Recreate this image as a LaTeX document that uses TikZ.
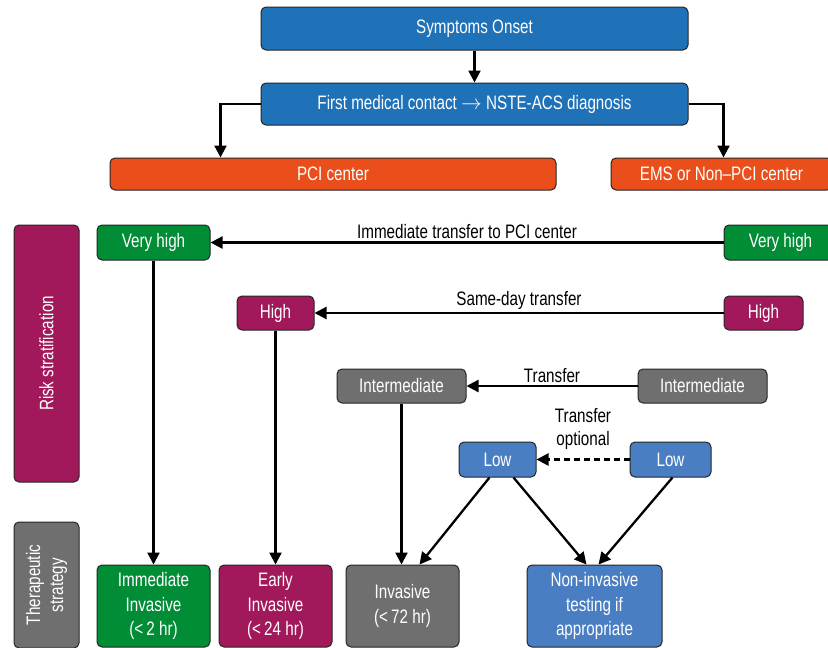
\documentclass[tikz,border=0pt]{standalone}
\usepackage{fontspec}
\setmainfont{Liberation Sans}[FakeStretch=0.78]
\usetikzlibrary{arrows.meta,calc}
\definecolor{cblue}{HTML}{1F71B8}
\definecolor{corange}{HTML}{E94E1B}
\definecolor{cgreen}{HTML}{008D36}
\definecolor{cmag}{HTML}{A2195B}
\definecolor{cgray}{HTML}{6F6F6F}
\definecolor{clblue}{HTML}{4A7EC2}
\tikzset{
  box/.style={draw=black!85, line width=1pt, rounded corners=5pt, text=white,
    font=\fontsize{19.5}{24.5}\selectfont, align=center, inner sep=0pt},
  conn/.style={line width=2.3pt, -{Triangle[length=12pt,width=12pt]}},
  lbl/.style={font=\fontsize{19.5}{23}\selectfont, text=black, align=center}
}
\newcommand{\bx}[7]{% name, fill, x1, x2, y1, y2, text
  \node[box, fill=#2, minimum width={#4-#3}, minimum height={#6-#5}] (#1) at ({(#3+#4)/2},{(#5+#6)/2}) {#7};}
\begin{document}
\begin{tikzpicture}[x=1pt,y=-1pt]
\useasboundingbox (0,0) rectangle (828,648);
\bx{sym}{cblue}{261}{688}{7}{50}{Symptoms Onset}
\bx{fmc}{cblue}{261}{688}{83}{125}{First medical contact $\rightarrow$ NSTE-ACS diagnosis}
\bx{pci}{corange}{110}{556}{158}{190}{PCI center}
\bx{ems}{corange}{611}{832}{158}{190}{EMS or Non–PCI center}
\bx{risk}{cmag}{14}{79}{225}{482}{}
\node[lbl, text=white, rotate=90] (risklbl) at (risk.center) {Risk stratification};
\bx{ther}{cgray}{14}{79}{522}{648}{}
\node[lbl, text=white, rotate=90] (therlbl) at (ther.center) {Therapeutic\\strategy};
\bx{vhL}{cgreen}{97}{210}{225}{260}{Very high}
\bx{vhR}{cgreen}{724}{837}{225}{260}{Very high}
\bx{hiL}{cmag}{237}{314}{296}{330}{High}
\bx{hiR}{cmag}{724}{803}{296}{330}{High}
\bx{imL}{cgray}{337}{466}{369}{403}{Intermediate}
\bx{imR}{cgray}{638}{767}{369}{403}{Intermediate}
\bx{loL}{clblue}{459}{536}{442}{477}{Low}
\bx{loR}{clblue}{630}{711}{442}{477}{Low}
\bx{s1}{cgreen}{97}{210}{565}{647}{Immediate\\Invasive\\(<\,2 hr)}
\bx{s2}{cmag}{219}{332}{565}{647}{Early\\Invasive\\(<\,24 hr)}
\bx{s3}{cgray}{346}{459}{565}{647}{Invasive\\(<\,72 hr)}
\bx{s4}{clblue}{527}{662}{565}{647}{Non-invasive\\testing if\\appropriate}
% connectors
\draw[conn] (sym.south) -- (fmc.north);
\draw[conn] (fmc.west) -| ($(pci.north west)+(111,0)$);
\draw[conn] (fmc.east) -| ($(ems.north west)+(113,0)$);
\draw[conn] (vhR.west) -- node[lbl, above=-1pt] {Immediate transfer to PCI center} (vhL.east);
\draw[conn] (hiR.west) -- node[lbl, above=-1pt] {Same-day transfer} (hiL.east);
\draw[conn] (imR.west) -- node[lbl, above=-1pt] {Transfer} (imL.east);
\draw[conn, dash pattern=on 6pt off 4pt] (loR.west) -- node[lbl, above=5pt] {Transfer\\optional} (loL.east);
\draw[conn] (vhL.south) -- (s1.north);
\draw[conn] (hiL.south) -- (s2.north);
\draw[conn] (imL.south) -- ($(imL.south)!(s3.north)!(imL.south|-s3.north)$);
\draw[conn] ($(loL.south)+(-8,0)$) -- ($(s3.north)+(17,0)$);
\draw[conn] ($(loL.south)+(16,0)$) -- ($(s4.north)+(-8,0)$);
\draw[conn] ($(loR.south)+(2,0)$) -- ($(s4.north)+(4,0)$);
\end{tikzpicture}
\end{document}
